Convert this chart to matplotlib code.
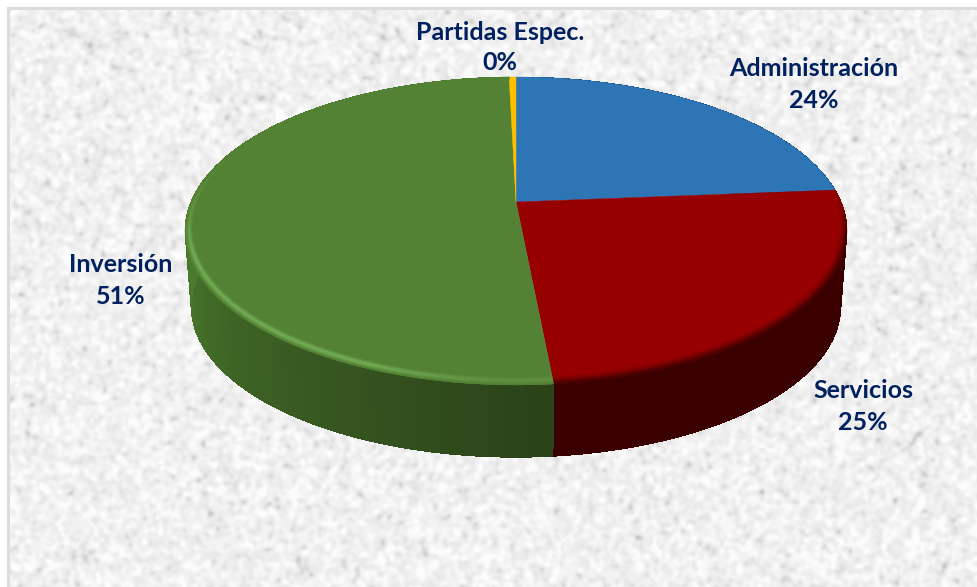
import numpy as np
import matplotlib
matplotlib.use("Agg")
import matplotlib.pyplot as plt
from matplotlib.collections import PolyCollection
from matplotlib.colors import to_rgb

OUTPUT_PATH = "out.png"
LABELS = ["Administración", "Servicios", "Inversión", "Partidas Espec."]
VALUES = [23.7, 24.8, 51.1, 0.4]
COLORS = ["#2e75b6", "#960000", "#548235", "#ffc000"]
WALL_NEAR = ["#1f4e79", "#3a0000", "#4b7c2d", "#b38600"]
WALL_FAR = ["#1f4e79", "#3a0000", "#2c431a", "#b38600"]
LABEL_POS = [(814, 69), (863, 391), (121, 265), (500, 32)]
LINE_GAP = 31

# perspective of the disc
CX = 516
K = 0.188
TOP_CY, TOP_A, TOP_B = 202, 325, 148.5
BOT_CY, BOT_A, BOT_B = 278, 319, 145.5


def project(theta, r, cy, a, b):
    u = r * np.sin(theta)
    v = r * np.cos(theta)
    w = 1 + K * v
    return CX + a * u / w, cy - b * v / w


def texture(w, h):
    # marble-ish paper background, smoothed noise
    rng = np.random.default_rng(7)
    noise = rng.normal(size=(h, w))
    fy = np.fft.fftfreq(h)[:, None]
    fx = np.fft.rfftfreq(w)[None, :]
    blur = np.exp(-2 * (np.pi * 2.2) ** 2 * (fx ** 2 + fy ** 2))
    img = np.fft.irfft2(np.fft.rfft2(noise) * blur, s=(h, w))
    img = img / img.std()
    return np.clip(240 + 6 * img - 8 * np.clip(-img - 1.6, 0, None), 190, 252) / 255


def plot():
    fig = plt.figure(figsize=(9.77, 5.87), dpi=100)
    ax = fig.add_axes([0, 0, 1, 1])
    ax.set_xlim(0, 977)
    ax.set_ylim(587, 0)
    ax.axis("off")

    ax.imshow(texture(977, 587), cmap="gray", vmin=0, vmax=1, extent=(0, 977, 587, 0),
              aspect="auto", zorder=0)
    ax.fill([0, 977, 977, 0], [0, 0, 7, 7], color="white", lw=0, zorder=1)
    ax.fill([0, 7, 7, 0], [0, 0, 587, 587], color="white", lw=0, zorder=1)
    ax.fill([7, 977, 977, 7], [7, 7, 9.5, 9.5], color="#dcdcdc", lw=0, zorder=1)
    ax.fill([7, 9.5, 9.5, 7], [7, 7, 587, 587], color="#dcdcdc", lw=0, zorder=1)

    edges = np.concatenate([[0], np.cumsum(VALUES)]) / np.sum(VALUES) * 2 * np.pi

    # side wall
    polys, cols = [], []
    for i in range(len(VALUES)):
        th = np.linspace(edges[i], edges[i + 1], max(3, int(np.degrees(edges[i + 1] - edges[i])) * 2))
        near, far = np.array(to_rgb(WALL_NEAR[i])), np.array(to_rgb(WALL_FAR[i]))
        for t0, t1 in zip(th[:-1], th[1:]):
            x0, y0 = project(np.array([t0, t1]), 1, TOP_CY, TOP_A, TOP_B)
            x1, y1 = project(np.array([t1, t0]), 1, BOT_CY, BOT_A, BOT_B)
            polys.append(list(zip(x0, y0)) + list(zip(x1, y1)))
            s = np.clip((np.degrees(0.5 * (t0 + t1)) - 178) / 90, 0, 1)
            cols.append(far + (near - far) * s)
    ax.add_collection(PolyCollection(polys, facecolors=cols, edgecolors="none", antialiaseds=False, zorder=2))

    # top face
    for i in range(len(VALUES)):
        th = np.linspace(edges[i], edges[i + 1], max(3, int(np.degrees(edges[i + 1] - edges[i])) * 2))
        x, y = project(th, 1, TOP_CY, TOP_A, TOP_B)
        ax.fill(np.r_[CX, x], np.r_[TOP_CY, y], color=COLORS[i], lw=0.3, zorder=3)

    # bevel on the front rim
    steps = np.linspace(0, 1, 11)
    polys, cols = [], []
    base_g, light_g = np.array(to_rgb(COLORS[2])), np.array(to_rgb("#74ad55"))
    base_r, dark_r = np.array(to_rgb(COLORS[1])), np.array(to_rgb(WALL_FAR[1]))
    for i in [1, 2]:
        th = np.linspace(edges[i], edges[i + 1], int(np.degrees(edges[i + 1] - edges[i])) * 2)
        for t0, t1 in zip(th[:-1], th[1:]):
            deg = np.degrees(0.5 * (t0 + t1))
            width = 0.02 + 0.018 * max(0, -np.cos(np.radians(deg)))
            for p0, p1 in zip(steps[:-1], steps[1:]):
                x0, y0 = project(np.array([t0, t1]), 1 - width * (1 - p0), TOP_CY, TOP_A, TOP_B)
                x1, y1 = project(np.array([t1, t0]), 1 - width * (1 - p1), TOP_CY, TOP_A, TOP_B)
                polys.append(list(zip(x0, y0)) + list(zip(x1, y1)))
                p = 0.5 * (p0 + p1)
                if i == 2:
                    strength = np.clip((deg - 172) / 30, 0.35, 1) * np.clip((290 - deg) / 40, 0, 1) ** 1.3
                    cols.append(base_g + (light_g - base_g) * strength * np.sin(np.pi * p) ** 2)
                else:
                    strength = np.clip((deg - 88) / 15, 0, 1)
                    cols.append(base_r + (dark_r - base_r) * strength * p ** 1.5)
    ax.add_collection(PolyCollection(polys, facecolors=cols, edgecolors=cols, linewidths=0.3, zorder=4))

    for name, val, (x, y) in zip(LABELS, VALUES, LABEL_POS):
        for txt, yy in ((name, y), (f"{val:.0f}%", y + LINE_GAP)):
            ax.text(x, yy, txt, ha="center", va="center", family="Lato", weight="bold",
                    fontsize=18, color="#002060", zorder=5)

    fig.savefig(OUTPUT_PATH, dpi=100)


plot()
